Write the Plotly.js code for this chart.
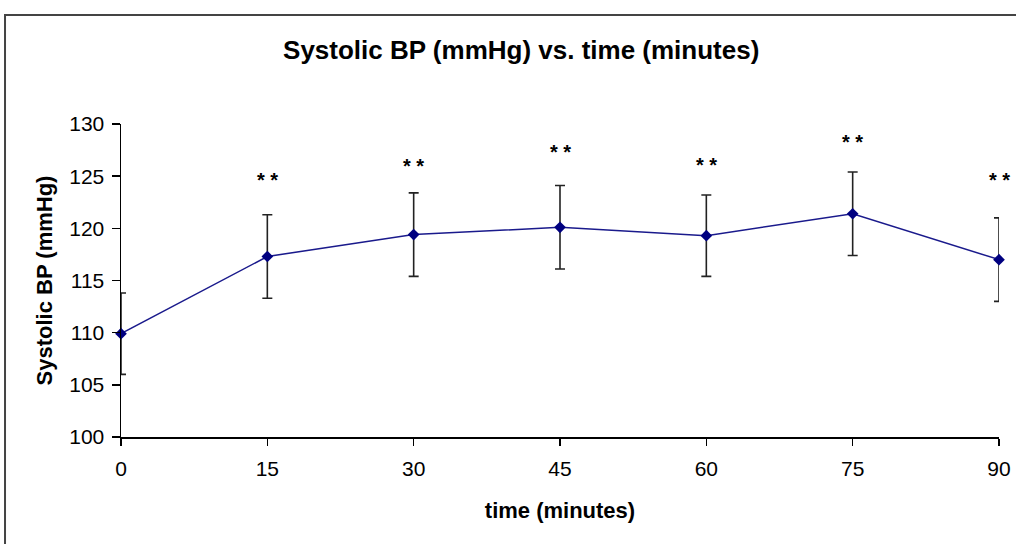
<!DOCTYPE html>
<html>
<head>
<meta charset="utf-8">
<script src="https://cdn.plot.ly/plotly-3.0.1.min.js"></script>
<style>
html,body{margin:0;padding:0;background:#fff;}
#chart{width:1016px;height:544px;}
</style>
</head>
<body>
<div id="chart"></div>
<script>
// Data
const timeMinutes = [0, 15, 30, 45, 60, 75, 90];
const systolicBP = [109.9, 117.3, 119.4, 120.1, 119.3, 121.4, 117.0];
const errorBP = [3.9, 4.0, 4.0, 4.0, 3.9, 4.0, 4.0];
const starTimes = [15, 30, 45, 60, 75, 90];
const starLevels = [124.9, 126.3, 127.6, 126.4, 128.6, 124.9];
const starLabel = '<b>* *</b>';
const xTicks = [0, 15, 30, 45, 60, 75, 90];
const yTicks = [100, 105, 110, 115, 120, 125, 130];

const FONT = 'Liberation Sans, Arial, sans-serif';

const trace = {
  x: timeMinutes,
  y: systolicBP,
  type: 'scatter',
  mode: 'lines+markers',
  line: {color: '#1a1a8c', width: 1.5},
  marker: {symbol: 'diamond', size: 9, color: '#000080'},
  error_y: {type: 'data', array: errorBP, visible: true, color: '#222', thickness: 1.6, width: 5},
  cliponaxis: false,
  hoverinfo: 'x+y'
};

const annotations = starTimes.map((t, i) => ({
  x: t, y: starLevels[i], xref: 'x', yref: 'y',
  text: starLabel, showarrow: false,
  font: {family: FONT, size: 20, color: '#000'},
  xanchor: 'center', yanchor: 'middle', yshift: -3
}));

const layout = {
  width: 1016, height: 544,
  margin: {l: 121, r: 17, t: 124, b: 107, pad: 0},
  paper_bgcolor: '#fff', plot_bgcolor: '#fff',
  showlegend: false,
  title: {
    text: '<b>Systolic BP (mmHg) vs. time (minutes)</b>',
    font: {family: FONT, size: 26, color: '#000'},
    x: 0.513, xanchor: 'center', y: 0.908, yanchor: 'middle'
  },
  xaxis: {
    range: [0, 90], tickvals: xTicks, ticktext: xTicks.map(String),
    showgrid: false, zeroline: false, showline: true, linecolor: '#000', linewidth: 1.5,
    ticks: 'outside', ticklen: 7, tickwidth: 1.5, tickcolor: '#000',
    ticklabelstandoff: 5,
    tickfont: {family: FONT, size: 21, color: '#000'},
    title: {text: '<b>time (minutes)</b>', font: {family: FONT, size: 22, color: '#000'}, standoff: 24},
    fixedrange: true
  },
  yaxis: {
    range: [100, 130], tickvals: yTicks, ticktext: yTicks.map(String),
    showgrid: false, zeroline: false, showline: true, linecolor: '#000', linewidth: 1.5,
    ticks: 'outside', ticklen: 8, tickwidth: 1.5, tickcolor: '#000',
    ticklabelstandoff: 3,
    tickfont: {family: FONT, size: 21, color: '#000'},
    title: {text: '<b>Systolic BP (mmHg)</b>', font: {family: FONT, size: 22, color: '#000'}, standoff: 10},
    fixedrange: true
  },
  annotations: annotations,
  shapes: [{
    type: 'rect', xref: 'paper', yref: 'paper',
    x0: -0.1321, x1: 1.2, y0: -0.6, y1: 1.348,
    line: {color: '#444', width: 2}, fillcolor: 'rgba(0,0,0,0)', layer: 'below'
  }]
};

Plotly.newPlot('chart', [trace], layout, {displayModeBar: false, staticPlot: true});
</script>
</body>
</html>
